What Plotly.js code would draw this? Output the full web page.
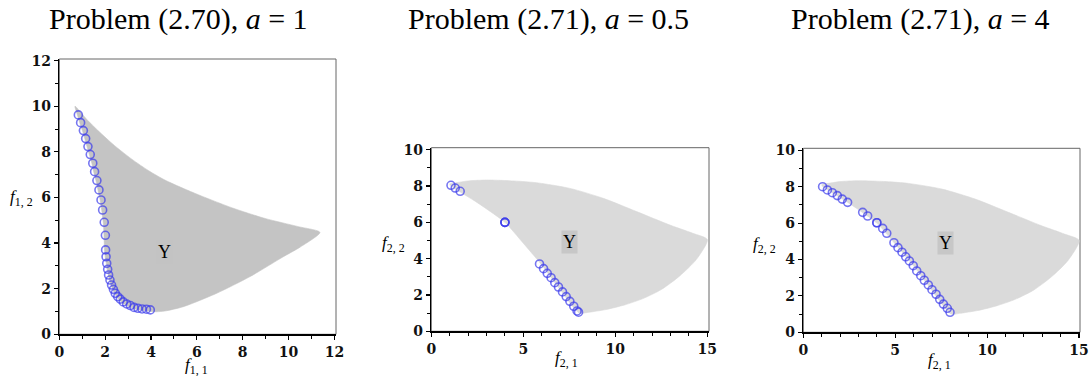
<!DOCTYPE html>
<html>
<head>
<meta charset="utf-8">
<script src="https://cdn.plot.ly/plotly-3.0.1.min.js"></script>
<style>
  html, body { margin: 0; padding: 0; background: #fff; }
  #chart { width: 1090px; height: 376px; }
</style>
</head>
<body>
<div id="chart"></div>
<script>
// ---- Problem (2.70), a = 1 : outcome set Y (boundary) ----
const regionAX = [0.685, 1.2, 1.7, 2.4, 3.16, 3.9, 4.61, 5.4, 6.06, 7.52, 8.97, 10.43, 11.37,
                  10.5, 9.77, 8.32, 6.87, 5.41, 4.6, 4.25,
                  4.0, 3.6, 3.26, 2.94, 2.66, 2.44, 2.28, 2.15, 2.06, 1.98, 1.95, 1.92, 1.85,
                  1.78, 1.69, 1.6, 1.5, 1.42, 1.31, 1.21, 1.11, 1.01, 0.89, 0.79, 0.685];
const regionAY = [10.0, 9.42, 8.92, 8.28, 7.68, 7.17, 6.76, 6.4, 6.12, 5.55, 5.08, 4.72, 4.47,
                  3.82, 3.40, 2.53, 1.80, 1.21, 1.02, 0.99,
                  1.0, 1.05, 1.12, 1.26, 1.46, 1.74, 2.1, 2.55, 3.05, 3.6, 4.34, 4.9, 5.45,
                  5.9, 6.33, 6.74, 7.13, 7.5, 7.88, 8.23, 8.58, 8.93, 9.28, 9.62, 10.0];

// Nondominated points found for Problem (2.70)
const paretoAX = [0.83, 0.93, 1.05, 1.15, 1.25, 1.35, 1.46, 1.54, 1.64, 1.73, 1.82, 1.89,
                  1.96, 2.01, 2.02, 2.04, 2.07, 2.11, 2.15, 2.21, 2.28, 2.36, 2.44, 2.55,
                  2.66, 2.79, 2.94, 3.10, 3.26, 3.43, 3.61, 3.80, 3.97];
const paretoAY = [9.62, 9.28, 8.93, 8.58, 8.23, 7.88, 7.50, 7.13, 6.74, 6.33, 5.89, 5.45,
                  4.91, 4.34, 3.70, 3.40, 3.11, 2.85, 2.60, 2.38, 2.16, 1.97, 1.80, 1.65,
                  1.54, 1.42, 1.33, 1.26, 1.18, 1.14, 1.11, 1.10, 1.07];

// ---- Problem (2.71) : outcome set Y (same for both a) ----
const regionBX = [1.0, 2.0, 3.0, 4.5, 5.73, 7.54, 9.35, 11.16, 12.97, 14.2, 15.0,
                  14.4, 13.5, 12.5, 11.5, 10.5, 9.5, 8.5, 8.05,
                  7.0, 6.0, 5.0, 4.0, 3.2, 2.4, 1.6, 1.0];
const regionBY = [8.12, 8.28, 8.33, 8.28, 8.18, 7.87, 7.32, 6.59, 5.85, 5.4, 5.05,
                  3.95, 3.05, 2.3, 1.8, 1.45, 1.2, 1.04, 1.0,
                  2.3, 3.65, 4.85, 6.0, 6.6, 7.15, 7.65, 8.05];

// Points found with a = 0.5 ((4, 6) is hit repeatedly)
const paretoBX = [1.07, 1.30, 1.57, 4.0, 4.0, 4.0, 5.88, 6.10, 6.30, 6.51, 6.71, 6.91,
                  7.13, 7.33, 7.53, 7.74, 7.92, 8.0];
const paretoBY = [8.04, 7.89, 7.71, 6.0, 6.0, 6.0, 3.71, 3.45, 3.19, 2.95, 2.68, 2.44,
                  2.17, 1.91, 1.65, 1.38, 1.12, 1.05];

// Points found with a = 4
const paretoCX = [1.05, 1.31, 1.58, 1.85, 2.12, 2.41, 3.23, 3.50, 4.0, 4.0, 4.32, 4.54,
                  4.93, 5.15, 5.37, 5.57, 5.77, 5.98, 6.17, 6.39, 6.58, 6.80, 7.00, 7.22,
                  7.42, 7.62, 7.83, 7.98];
const paretoCY = [8.0, 7.82, 7.67, 7.51, 7.32, 7.14, 6.59, 6.39, 6.02, 6.02, 5.71, 5.44,
                  4.92, 4.65, 4.40, 4.15, 3.92, 3.66, 3.37, 3.11, 2.86, 2.60, 2.34, 2.09,
                  1.81, 1.55, 1.32, 1.10];

const titles = ['Problem (2.70), <i>a</i> = 1', 'Problem (2.71), <i>a</i> = 0.5', 'Problem (2.71), <i>a</i> = 4'];
const xTitles = ['<i>f</i><sub>1, 1</sub>', '<i>f</i><sub>2, 1</sub>', '<i>f</i><sub>2, 1</sub>'];
const yTitles = ['<i>f</i><sub>1, 2</sub>', '<i>f</i><sub>2, 2</sub>', '<i>f</i><sub>2, 2</sub>'];

const W = 1090, H = 376;
const px = v => v / W;
const py = v => 1 - v / H;

const tickFont = { family: 'DejaVu Serif', size: 14, color: '#111', weight: 700 };

function axis(domain, range, dtick, anchor) {
  return {
    domain: domain, range: range, anchor: anchor,
    showline: true, linecolor: '#000', linewidth: 1.5,
    ticks: 'outside', ticklen: 4, tickwidth: 1.2, tickcolor: '#000',
    tick0: 0, dtick: dtick,
    minor: { dtick: 1, ticks: 'outside', ticklen: 3, tickwidth: 1, tickcolor: '#000', showgrid: false },
    showgrid: false, zeroline: false, tickfont: tickFont, fixedrange: true
  };
}

const regionStyle = (color, xa, ya) => ({
  type: 'scatter', mode: 'lines', fill: 'toself', fillcolor: color,
  line: { color: color, width: 0.6, shape: 'spline', smoothing: 0.7 },
  xaxis: xa, yaxis: ya, hoverinfo: 'skip'
});
const pointStyle = (xa, ya) => ({
  type: 'scatter', mode: 'markers', xaxis: xa, yaxis: ya,
  marker: { symbol: 'circle-open', size: 8, color: 'rgba(60,60,235,0.7)', line: { width: 1.6 } }
});

const data = [
  Object.assign({ x: regionAX, y: regionAY }, regionStyle('#c4c4c4', 'x', 'y')),
  Object.assign({ x: paretoAX, y: paretoAY }, pointStyle('x', 'y')),
  Object.assign({ x: regionBX, y: regionBY }, regionStyle('#dadada', 'x2', 'y2')),
  Object.assign({ x: paretoBX, y: paretoBY }, pointStyle('x2', 'y2')),
  Object.assign({ x: regionBX, y: regionBY }, regionStyle('#dadada', 'x3', 'y3')),
  Object.assign({ x: paretoCX, y: paretoCY }, pointStyle('x3', 'y3'))
];

// plot boxes in pixels: [left, right, bottom, top]
const boxes = [[59.3, 336, 334.3, 59], [431.3, 709, 331.3, 147.7], [803.3, 1080, 332.3, 148.3]];
const ranges = [[[0, 12.07], [0, 12.07]], [[0, 15.09], [0, 10.11]], [[0, 15.05], [0, 10.11]]];
const dticks = [[2, 2], [5, 2], [5, 2]];
const labelPos = [[4.61, 3.61], [7.53, 4.93], [7.75, 4.89]];
const titleX = [178, 548, 920];
const xTitlePos = [[196, 366], [566, 359], [939, 361]];
const yTitlePos = [[21, 198], [393, 244], [764, 245]];

const layout = {
  width: W, height: H, margin: { l: 0, r: 0, t: 0, b: 0 },
  paper_bgcolor: '#fff', plot_bgcolor: '#fff', showlegend: false,
  annotations: [], shapes: []
};

boxes.forEach((b, i) => {
  const sx = i === 0 ? '' : String(i + 1);
  layout['xaxis' + sx] = axis([px(b[0]), px(b[1])], ranges[i][0], dticks[i][0], 'y' + sx);
  layout['yaxis' + sx] = axis([py(b[2]), py(b[3])], ranges[i][1], dticks[i][1], 'x' + sx);
  // thin frame around the plotting box
  layout.shapes.push({ type: 'rect', xref: 'paper', yref: 'paper',
    x0: px(b[0]), x1: px(b[1]), y0: py(b[2]), y1: py(b[3]),
    line: { color: '#666', width: 1 }, layer: 'below' });
  // "Y" label inside the outcome set
  layout.annotations.push({ xref: 'x' + sx, yref: 'y' + sx, x: labelPos[i][0], y: labelPos[i][1],
    text: 'Y', showarrow: false, bgcolor: 'rgba(195,195,195,0.85)', borderpad: 1,
    font: { family: 'Liberation Serif', size: 18, color: '#000' } });
  // panel title
  layout.annotations.push({ xref: 'paper', yref: 'paper', x: px(titleX[i]), y: py(19),
    text: titles[i], showarrow: false, xanchor: 'center', yanchor: 'middle',
    font: { family: 'Liberation Serif', size: 30, color: '#000' } });
  // axis titles, drawn horizontally
  layout.annotations.push({ xref: 'paper', yref: 'paper', x: px(xTitlePos[i][0]), y: py(xTitlePos[i][1]),
    text: xTitles[i], showarrow: false, xanchor: 'center', yanchor: 'middle',
    font: { family: 'Liberation Serif', size: 17, color: '#000' } });
  layout.annotations.push({ xref: 'paper', yref: 'paper', x: px(yTitlePos[i][0]), y: py(yTitlePos[i][1]),
    text: yTitles[i], showarrow: false, xanchor: 'center', yanchor: 'middle',
    font: { family: 'Liberation Serif', size: 17, color: '#000' } });
});

Plotly.newPlot('chart', data, layout, { displayModeBar: false, staticPlot: true });
</script>
</body>
</html>
